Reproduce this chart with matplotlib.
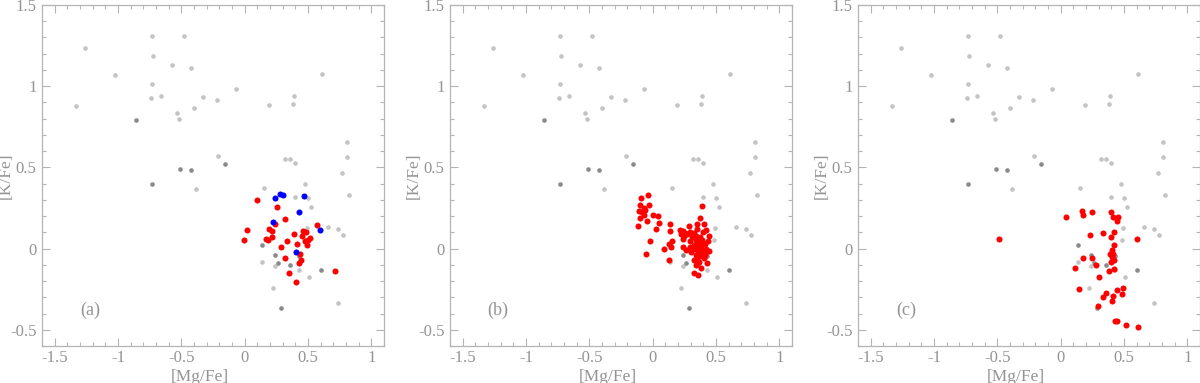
import numpy as np
import matplotlib
matplotlib.use('Agg')
import matplotlib.pyplot as plt
from matplotlib.ticker import MultipleLocator, FormatStrFormatter

# comparison sample, same in every panel
light_x = [-1.33, -1.263, -1.021, -0.729, -0.482, -0.721, -0.571, -0.421, -0.729, -0.742,
           -0.661, -0.332, -0.221, -0.071, -0.400, -0.532, -0.521, 0.189, 0.387, 0.379,
           0.608, -0.211, -0.382, 0.318, 0.358, 0.397, 0.811, 0.811, 0.768, 0.821,
           0.479, 0.150, 0.397, 0.500, 0.521, 0.489, 0.661, 0.739, 0.779, 0.137,
           0.237, 0.226, 0.426, 0.511, 0.739, 0.485]
light_y = [0.877, 1.234, 1.066, 1.311, 1.311, 1.186, 1.129, 1.115, 1.014, 0.926,
           0.939, 0.936, 0.912, 0.982, 0.865, 0.832, 0.795, 0.885, 0.939, 0.889,
           1.078, 0.570, 0.365, 0.553, 0.549, 0.529, 0.654, 0.564, 0.465, 0.328,
           0.395, 0.375, 0.318, 0.309, 0.256, 0.127, 0.135, 0.119, 0.086, -0.084,
           -0.109, -0.244, -0.135, -0.178, -0.334, 0.055]
dark_x = [-0.861, -0.729, -0.511, -0.421, -0.158, 0.137, 0.237, 0.261, 0.361, 0.600, 0.289, 0.430]
dark_y = [0.793, 0.400, 0.490, 0.484, 0.523, 0.025, -0.041, -0.088, -0.102, -0.135, -0.365, -0.045]

# panel (a)
red_a_x = [0.100, 0.018, -0.005, 0.253, 0.239, 0.318, 0.195, 0.213, 0.166, 0.187,
           0.213, 0.289, 0.332, 0.392, 0.411, 0.458, 0.487, 0.455, 0.474, 0.489,
           0.500, 0.518, 0.571, 0.434, 0.447, 0.429, 0.321, 0.353, 0.408, 0.713]
red_a_y = [0.297, 0.113, 0.053, 0.256, 0.152, 0.180, 0.119, 0.107, 0.061, 0.051,
           0.070, 0.010, 0.047, 0.092, 0.029, 0.109, 0.105, 0.078, 0.045, 0.020,
           0.051, 0.066, 0.143, -0.031, -0.070, -0.086, -0.055, -0.152, -0.203, -0.141]
blue_a_x = [0.282, 0.305, 0.242, 0.468, 0.426, 0.224, 0.592, 0.405]
blue_a_y = [0.338, 0.330, 0.309, 0.324, 0.225, 0.166, 0.113, -0.020]

# panel (b)
red_b_x = [-0.037, -0.089, -0.097, -0.026, -0.071, -0.060, -0.105, -0.081, -0.068, -0.100,
           0.005, 0.045, -0.047, 0.047, -0.113, 0.026, 0.139, 0.137, -0.018, 0.155,
           0.129, 0.092, 0.145, -0.050, 0.132, 0.392, 0.376, 0.353, 0.408, 0.284,
           0.418, 0.213, 0.242, 0.221, 0.258, 0.271, 0.295, 0.324, 0.342, 0.374,
           0.442, 0.434, 0.242, 0.295, 0.339, 0.361, 0.329, 0.384, 0.416, 0.237,
           0.266, 0.295, 0.337, 0.358, 0.392, 0.411, 0.432, 0.447, 0.342, 0.374,
           0.329, 0.363, 0.403, 0.429, 0.379, 0.326, 0.358, 0.350, 0.400, 0.360,
           0.380, 0.310, 0.350, 0.420, 0.300, 0.250, 0.390, 0.340, 0.410, 0.370]
red_b_y = [0.330, 0.309, 0.268, 0.268, 0.248, 0.238, 0.230, 0.225, 0.207, 0.190,
           0.209, 0.199, 0.170, 0.160, 0.139, 0.119, 0.150, 0.109, 0.049, 0.049,
           0.027, -0.002, 0.010, -0.031, -0.072, 0.260, 0.191, 0.154, 0.150, 0.139,
           0.113, 0.115, 0.109, 0.092, 0.096, 0.088, 0.100, 0.096, 0.080, 0.072,
           0.078, 0.047, 0.059, 0.045, 0.055, 0.029, 0.020, 0.018, 0.029, 0.010,
           -0.006, 0.010, -0.002, -0.014, -0.006, -0.027, -0.012, -0.018, -0.041, -0.047,
           -0.072, -0.082, -0.061, -0.090, -0.119, -0.148, -0.160, 0.120, 0.100, 0.000,
           -0.030, 0.070, -0.060, 0.000, -0.020, 0.080, 0.050, -0.100, -0.040, 0.040]

# panel (c)
red_c_x = [-0.487, 0.039, 0.166, 0.179, 0.245, 0.232, 0.332, 0.395, 0.416, 0.453,
           0.442, 0.418, 0.395, 0.421, 0.403, 0.389, 0.416, 0.408, 0.421, 0.395,
           0.603, 0.174, 0.245, 0.282, 0.111, 0.424, 0.382, 0.303, 0.147, 0.361,
           0.332, 0.495, 0.445, 0.482, 0.411, 0.403, 0.297, 0.429, 0.447, 0.516, 0.613]
red_c_y = [0.061, 0.195, 0.232, 0.205, 0.227, 0.084, 0.094, 0.225, 0.195, 0.197,
           0.168, 0.102, 0.070, 0.025, -0.010, -0.035, -0.031, -0.051, -0.068, -0.082,
           0.061, -0.061, -0.057, -0.102, -0.119, -0.125, -0.139, -0.178, -0.250, -0.273,
           -0.297, -0.240, -0.258, -0.277, -0.291, -0.322, -0.352, -0.449, -0.445, -0.473, -0.486]

panel_labels = ['(a)', '(b)', '(c)']

frame_col = '#b4b4b4'
text_col = '#949494'
plt.rcParams['font.family'] = ['Liberation Serif', 'DejaVu Serif']

fig = plt.figure(figsize=(12, 3.83), dpi=100)
lefts = [42 / 1200, 450 / 1200, 858 / 1200]
panels = [(red_a_x, red_a_y, blue_a_x, blue_a_y),
          (red_b_x, red_b_y, [], []),
          (red_c_x, red_c_y, [], [])]

for left, label, (rx, ry, bx, by) in zip(lefts, panel_labels, panels):
    ax = fig.add_axes([left, 37 / 383, 342 / 1200, 341 / 383])
    ax.scatter(light_x, light_y, s=11, color='#c4c4c4', linewidths=0, zorder=2)
    ax.scatter(dark_x, dark_y, s=11, color='#8a8a8a', linewidths=0, zorder=2)
    ax.scatter(rx, ry, s=19, color='#ff0000', linewidths=0, zorder=3)
    if bx:
        ax.scatter(bx, by, s=19, color='#0000ff', linewidths=0, zorder=4)

    ax.set_xlim(-1.6, 1.1)
    ax.set_ylim(-0.6, 1.5)
    ax.xaxis.set_major_locator(MultipleLocator(0.5))
    ax.xaxis.set_minor_locator(MultipleLocator(0.1))
    ax.yaxis.set_major_locator(MultipleLocator(0.5))
    ax.yaxis.set_minor_locator(MultipleLocator(0.1))
    ax.xaxis.set_major_formatter(FormatStrFormatter('%g'))
    ax.yaxis.set_major_formatter(FormatStrFormatter('%g'))
    ax.tick_params(which='both', direction='in', top=True, right=True,
                   color=frame_col, labelcolor=text_col, labelsize=12, width=0.8)
    ax.tick_params(which='major', length=5.5, pad=4)
    ax.tick_params(axis='x', which='major', pad=3)
    ax.tick_params(which='minor', length=3)
    for sp in ax.spines.values():
        sp.set_color(frame_col)
        sp.set_linewidth(0.9)

    ax.set_xlabel('[Mg/Fe]', color=text_col, fontsize=12.5)
    ax.set_ylabel('[K/Fe]', color=text_col, fontsize=12.5)
    ax.xaxis.set_label_coords(0.462, -0.066)
    ax.yaxis.set_label_coords(-0.105, 0.5)
    ax.yaxis.label.set_va('center')
    ax.text(-1.22, -0.38, label, color=text_col, fontsize=13, ha='center', va='center')

fig.savefig('out.png', dpi=100)
